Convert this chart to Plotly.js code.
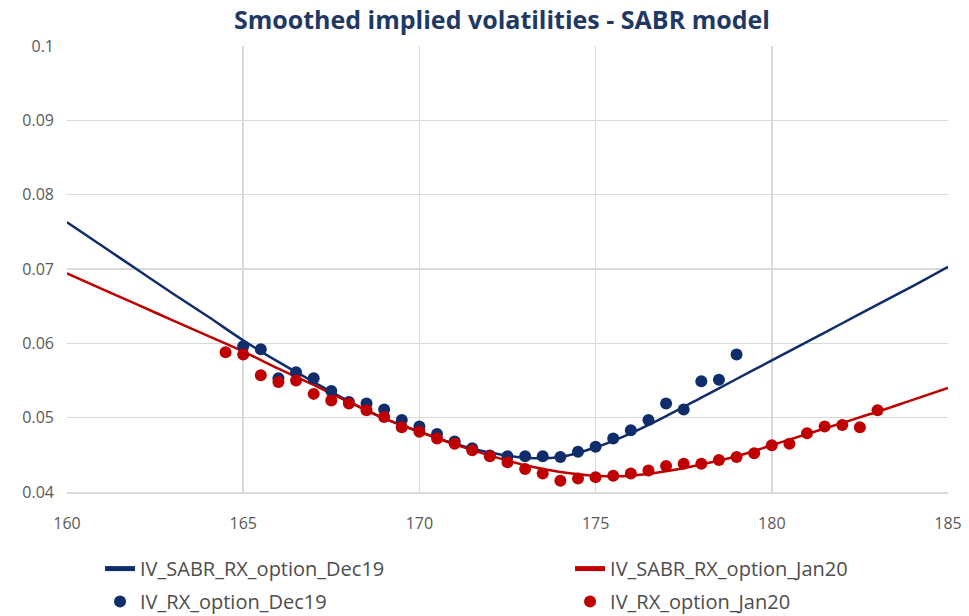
<!DOCTYPE html>
<html><head><meta charset="utf-8">
<script src="https://cdn.plot.ly/plotly-3.0.1.min.js"></script>
<style>html,body{margin:0;padding:0;background:#fff}#chart{width:969px;height:616px}</style>
</head><body><div id="chart"></div>
<script>
// SABR smoothed curves
const curveStrikes = [160,161,162,163,164,165,166,167,168,169,170,171,172,173,174,175,176,177,178,179,180,181,182,183,184,185];
const sabrDec19 = [0.0763,0.0731,0.0699,0.0667,0.0636,0.0604,0.0575,0.0548,0.0522,0.0499,0.0481,0.0465,0.0453,0.0446,0.0447,0.0460,0.0479,0.0502,0.0527,0.0552,0.0577,0.0602,0.0627,0.0652,0.0677,0.0703];
const sabrJan20 = [0.0694,0.0673,0.0652,0.0631,0.0610,0.0589,0.0566,0.0544,0.0521,0.0499,0.0481,0.0464,0.0449,0.0436,0.0427,0.0422,0.0422,0.0428,0.0437,0.0448,0.0463,0.0478,0.0493,0.0508,0.0524,0.0540];
// market implied vols
const dec19Strikes = [165,165.5,166,166.5,167,167.5,168,168.5,169,169.5,170,170.5,171,171.5,172,172.5,173,173.5,174,174.5,175,175.5,176,176.5,177,177.5,178,178.5,179];
const ivDec19 = [0.0596,0.0592,0.0553,0.0561,0.0553,0.0536,0.0521,0.0519,0.0511,0.0497,0.0488,0.0478,0.0468,0.0459,0.0449,0.0448,0.0448,0.0448,0.0447,0.0454,0.0461,0.0472,0.0483,0.0497,0.0519,0.0511,0.0549,0.0551,0.0585];
const jan20Strikes = [164.5,165,165.5,166,166.5,167,167.5,168,168.5,169,169.5,170,170.5,171,171.5,172,172.5,173,173.5,174,174.5,175,175.5,176,176.5,177,177.5,178,178.5,179,179.5,180,180.5,181,181.5,182,182.5,183];
const ivJan20 = [0.0588,0.0585,0.0557,0.0548,0.0550,0.0532,0.0523,0.0519,0.0510,0.0501,0.0487,0.0481,0.0472,0.0465,0.0456,0.0448,0.0440,0.0431,0.0425,0.0415,0.0418,0.0420,0.0422,0.0425,0.0429,0.0435,0.0438,0.0438,0.0443,0.0447,0.0452,0.0463,0.0465,0.0479,0.0488,0.0490,0.0487,0.0510];
const xTicks = [160,165,170,175,180,185];
const yTicks = [0.04,0.05,0.06,0.07,0.08,0.09,0.1];
const yTickText = ['0.04','0.05','0.06','0.07','0.08','0.09','0.1'];

const navy = '#0F2D6B', red = '#C00000';
const traces = [
  {x: curveStrikes, y: sabrDec19, mode:'lines', line:{color:navy, width:2.5, shape:'spline'}, name:'IV_SABR_RX_option_Dec19', legend:'legend', legendgroup:'a'},
  {x: curveStrikes, y: sabrJan20, mode:'lines', line:{color:red, width:2.5, shape:'spline'}, name:'IV_SABR_RX_option_Jan20', legend:'legend2', legendgroup:'c'},
  {x: dec19Strikes, y: ivDec19, mode:'markers', marker:{color:navy, size:12}, name:'IV_RX_option_Dec19', legend:'legend', legendgroup:'b'},
  {x: jan20Strikes, y: ivJan20, mode:'markers', marker:{color:red, size:12}, name:'IV_RX_option_Jan20', legend:'legend2', legendgroup:'d'}
];
const font = '"Open Sans", Lato, sans-serif';
const legendBase = {orientation:'v', xref:'paper', yref:'paper', y:-0.128, yanchor:'top', font:{family:font, size:20, color:'#4d4d4d'}, tracegroupgap:4, itemsizing:'constant', bgcolor:'rgba(0,0,0,0)'};
const layout = {
  width: 969, height: 616,
  margin: {l:67, r:21, t:46, b:124, autoexpand:false},
  paper_bgcolor:'#fff', plot_bgcolor:'#fff',
  title: {text:'<b>Smoothed implied volatilities - SABR model</b>', x:0.518, xanchor:'center', y:0.967, yanchor:'middle', font:{family:font, size:25, color:'#1F3864'}},
  xaxis: {range:[160,185], tickvals:xTicks, showgrid:true, gridcolor:'#d9d9d9', gridwidth:1.5, zeroline:false, showline:true, linecolor:'#d9d9d9', linewidth:1.5, ticks:'', tickfont:{family:font, size:16, color:'#595959'}, ticklabelstandoff:16},
  yaxis: {range:[0.04,0.1], tickvals:yTicks, ticktext:yTickText, showgrid:true, gridcolor:'#d9d9d9', gridwidth:1.5, zeroline:false, showline:false, ticks:'', tickfont:{family:font, size:16, color:'#595959'}, ticklabelstandoff:12},
  showlegend: true,
  legend: Object.assign({}, legendBase, {x:0.0375, xanchor:'left'}),
  legend2: Object.assign({}, legendBase, {x:0.571, xanchor:'left'})
};
Plotly.newPlot('chart', traces, layout, {displayModeBar:false, staticPlot:true});
</script></body></html>
